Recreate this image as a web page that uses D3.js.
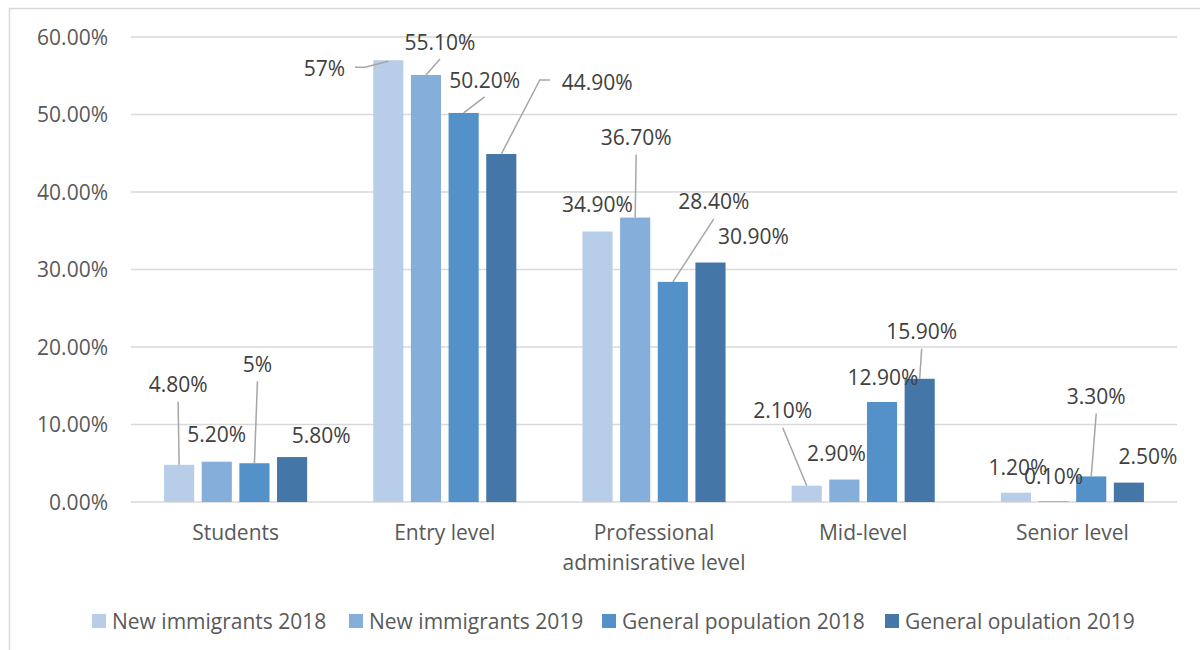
<!DOCTYPE html>
<html>
<head>
<meta charset="utf-8">
<script src="https://cdn.jsdelivr.net/npm/d3@7"></script>
<style>
  body { margin: 0; background: #fff; }
  text { font-family: "Open Sans", sans-serif; }
</style>
</head>
<body>
<div id="chart"></div>
<script>
// data
var categories = ["Students", "Entry level", "Professional adminisrative level", "Mid-level", "Senior level"];
var categoryLines = [["Students"], ["Entry level"], ["Professional", "adminisrative level"], ["Mid-level"], ["Senior level"]];
var seriesNames = ["New immigrants 2018", "New immigrants 2019", "General population 2018", "General opulation 2019"];
var newImmigrants2018 = [4.8, 57, 34.9, 2.1, 1.2];
var newImmigrants2019 = [5.2, 55.1, 36.7, 2.9, 0.1];
var generalPop2018 = [5, 50.2, 28.4, 12.9, 3.3];
var generalPop2019 = [5.8, 44.9, 30.9, 15.9, 2.5];
var yTicks = [0, 10, 20, 30, 40, 50, 60];

// label placement (offset from bar top centre) and leader style, like the excel sheet had them dragged
var labelOffsets = [
  [[-1, -80, "b"], [-64, 8, "r"], [0, -27, ""], [-24, -75, "b"], [2, -25, ""]],
  [[0, -27, ""], [14, -33, "b"], [1, -80, "b"], [-8, -26, ""], [0, -25, ""]],
  [[3, -99, "b"], [21, -33, "b"], [41, -80, "b"], [1, -25, ""], [5, -80, "b"]],
  [[29, -22, ""], [96, -72, "l"], [43, -26, ""], [2, -47, "b"], [19, -26, ""]]
];

var colors = ["#b7cde8", "#85aedb", "#5491c8", "#4477a8"];
var allSeries = [newImmigrants2018, newImmigrants2019, generalPop2018, generalPop2019];

var svgWidth = 1200;
var svgHeight = 650;

var svg = d3.select("#chart")
  .append("svg")
  .attr("width", svgWidth)
  .attr("height", svgHeight);

// chart border
svg.append("rect")
  .attr("x", 9.5)
  .attr("y", 8.5)
  .attr("width", 1220)
  .attr("height", 680)
  .attr("fill", "none")
  .attr("stroke", "#d9d9d9")
  .attr("stroke-width", 1.5);

var x0 = d3.scaleBand()
  .domain(categories)
  .range([131, 1177])
  .paddingInner(0.316)
  .paddingOuter(0.158);

var x1 = d3.scaleBand()
  .domain(d3.range(4))
  .range([0, x0.bandwidth()])
  .paddingInner(0.2);

var y = d3.scaleLinear()
  .domain([0, 60])
  .range([502, 37]);

// gridlines
svg.append("g")
  .selectAll("line")
  .data(yTicks)
  .enter()
  .append("line")
  .attr("x1", 131)
  .attr("x2", 1177)
  .attr("y1", d => y(d))
  .attr("y2", d => y(d))
  .attr("stroke", "#d9d9d9")
  .attr("stroke-width", 1.5);

// y labels
svg.append("g")
  .selectAll("text")
  .data(yTicks)
  .enter()
  .append("text")
  .attr("x", 108)
  .attr("y", d => y(d))
  .attr("dy", "0.36em")
  .attr("text-anchor", "end")
  .attr("font-size", 21)
  .attr("fill", "#595959")
  .text(d => d.toFixed(2) + "%");

// bars
var fmt = function(v) {
  return Number.isInteger(v) ? v + "%" : v.toFixed(2) + "%";
};

var barData = [];
allSeries.forEach(function(vals, s) {
  vals.forEach(function(v, c) {
    barData.push({ s: s, c: c, value: v, off: labelOffsets[s][c] });
  });
});

var cx = d => x0(categories[d.c]) + x1(d.s) + x1.bandwidth() / 2;

svg.append("g")
  .selectAll("rect")
  .data(barData)
  .enter()
  .append("rect")
  .attr("x", d => x0(categories[d.c]) + x1(d.s))
  .attr("y", d => y(d.value))
  .attr("width", x1.bandwidth())
  .attr("height", d => y(0) - y(d.value))
  .attr("fill", d => colors[d.s]);

// data labels + leader lines
var labelGroup = svg.append("g");
barData.forEach(function(d) {
  var bx = cx(d);
  var by = y(d.value);
  var lx = bx + d.off[0];
  var ly = by + d.off[1];
  var t = labelGroup.append("text")
    .attr("x", lx)
    .attr("y", ly)
    .attr("dy", "0.36em")
    .attr("text-anchor", "middle")
    .attr("font-size", 21)
    .attr("fill", "#404040")
    .text(fmt(d.value));
  var hw = t.node().getComputedTextLength() / 2;
  var pts = null;
  if (d.off[2] == "b") {
    pts = [[lx, ly + 17], [bx, by]];
  } else if (d.off[2] == "r") {
    pts = [[lx + hw + 10, ly - 1], [lx + hw + 20, ly - 1], [bx, by + 1]];
  } else if (d.off[2] == "l") {
    pts = [[lx - hw - 12, ly - 2], [lx - hw - 22, ly - 2], [bx, by]];
  }
  if (pts) {
    labelGroup.append("path")
      .attr("d", d3.line()(pts))
      .attr("fill", "none")
      .attr("stroke", "#a6a6a6")
      .attr("stroke-width", 1.5);
  }
});

// category labels
var catGroup = svg.append("g");
categoryLines.forEach(function(lines, i) {
  lines.forEach(function(line, j) {
    catGroup.append("text")
      .attr("x", x0(categories[i]) + x0.bandwidth() / 2)
      .attr("y", 532 + j * 30)
      .attr("dy", "0.36em")
      .attr("text-anchor", "middle")
      .attr("font-size", 21)
      .attr("fill", "#595959")
      .text(line);
  });
});

// legend
var legendX = [92, 349, 602, 885];
var legend = svg.append("g");
seriesNames.forEach(function(name, i) {
  legend.append("rect")
    .attr("x", legendX[i])
    .attr("y", 614)
    .attr("width", 14)
    .attr("height", 14)
    .attr("fill", colors[i]);
  legend.append("text")
    .attr("x", legendX[i] + 20)
    .attr("y", 621)
    .attr("dy", "0.36em")
    .attr("font-size", 21)
    .attr("fill", "#595959")
    .text(name);
});
</script>
</body>
</html>
